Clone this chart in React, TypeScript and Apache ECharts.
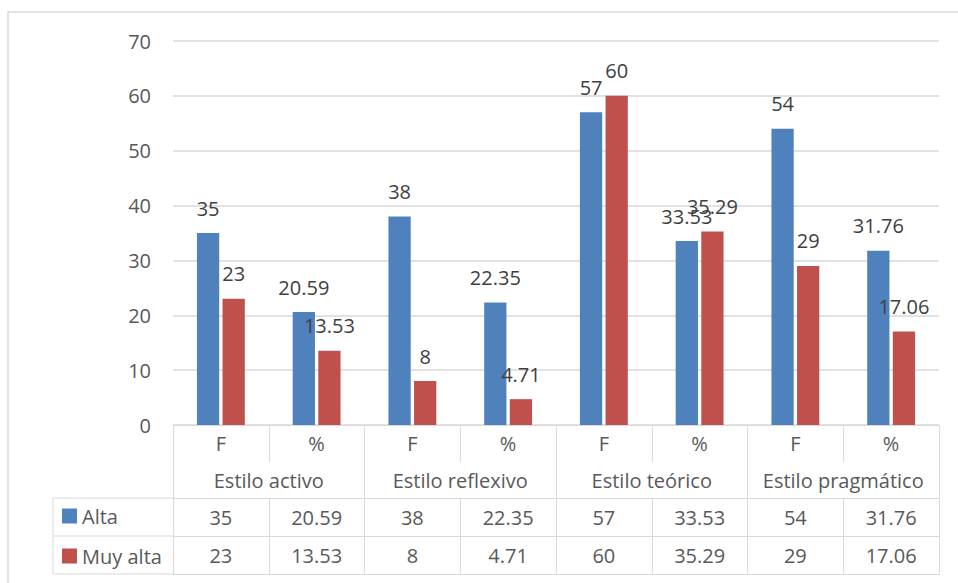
import React, { useEffect, useRef } from "react";
import * as echarts from "echarts";

const categories = [
  "activo-F", "activo-%", "reflexivo-F", "reflexivo-%",
  "teorico-F", "teorico-%", "pragmatico-F", "pragmatico-%",
];
const subLabels = ["F", "%", "F", "%", "F", "%", "F", "%"];
const groupLabels = ["Estilo activo", "Estilo reflexivo", "Estilo teórico", "Estilo pragmático"];
const seriesNames = ["Alta", "Muy alta"];
const alta = [35, 20.59, 38, 22.35, 57, 33.53, 54, 31.76];
const muyAlta = [23, 13.53, 8, 4.71, 60, 35.29, 29, 17.06];
const yTicks = { min: 0, max: 70, interval: 10 };

const FONT = "Open Sans";
const GRAY = "#d9d9d9";
const TXT = "#595959";

export default function App() {
  const ref = useRef<HTMLDivElement>(null);
  useEffect(() => {
    if (!ref.current) return;
    const chart = echarts.init(ref.current, null, { renderer: "svg" });
    const baseLabel = { fontFamily: FONT, fontSize: 20, color: TXT, lineHeight: 24, interval: 0 };
    const rowAxis = (offset: number, labels: string[] | null, tickLen: number, margin: number, showTicks: boolean) => ({
      type: "category" as const,
      data: categories,
      position: "bottom" as const,
      offset,
      gridIndex: 0,
      axisLine: { show: true, lineStyle: { color: GRAY, width: 1 } },
      axisTick: { show: showTicks, interval: 0, length: tickLen, lineStyle: { color: GRAY, width: 1 } },
      axisLabel: {
        ...baseLabel,
        show: !!labels,
        margin,
        formatter: (_v: string, i: number) => (labels ? labels[i] : ""),
      },
      splitLine: { show: false },
    });
    const option: any = {
      animation: false,
      grid: { left: 173, right: 19, top: 41, bottom: 158, containLabel: false },
      legend: {
        data: seriesNames,
        orient: "vertical",
        left: 62,
        top: 505,
        padding: 0,
        itemWidth: 15,
        itemHeight: 15,
        itemGap: 18,
        icon: "rect",
        textStyle: { fontFamily: FONT, fontSize: 20, color: TXT, lineHeight: 22 },
        selectedMode: false,
      },
      xAxis: [
        rowAxis(0, subLabels, 37, 6, true),
        {
          type: "category",
          data: groupLabels,
          position: "bottom",
          offset: 37,
          gridIndex: 0,
          axisLine: { show: false },
          axisTick: { show: true, interval: 0, length: 36, lineStyle: { color: GRAY, width: 1 } },
          axisLabel: { ...baseLabel, margin: 6 },
        },
        rowAxis(73, alta.map(String), 38, 7, true),
        rowAxis(111, muyAlta.map(String), 38, 7, true),
        rowAxis(149, null, 0, 0, false),
      ],
      yAxis: {
        type: "value",
        min: yTicks.min,
        max: yTicks.max,
        interval: yTicks.interval,
        axisLine: { show: false },
        axisTick: { show: false },
        axisLabel: { fontFamily: FONT, fontSize: 20, color: TXT, margin: 22 },
        splitLine: { lineStyle: { color: GRAY, width: 1.5 } },
      },
      series: [
        {
          name: seriesNames[0],
          type: "bar",
          data: alta,
          xAxisIndex: 0,
          barGap: "15%",
          barCategoryGap: "50%",
          itemStyle: { color: "#4F81BD" },
          label: { show: true, position: "top", distance: 15, fontFamily: FONT, fontSize: 20, color: "#404040" },
        },
        {
          name: seriesNames[1],
          type: "bar",
          data: muyAlta,
          xAxisIndex: 0,
          barGap: "15%",
          barCategoryGap: "50%",
          itemStyle: { color: "#C0504D" },
          label: { show: true, position: "top", distance: 15, fontFamily: FONT, fontSize: 20, color: "#404040" },
        },
      ],
      graphic: [
        { type: "rect", shape: { x: 8, y: 12, width: 960, height: 580 }, style: { fill: "none", stroke: GRAY, lineWidth: 1.5 }, silent: true },
        { type: "line", shape: { x1: 53, y1: 498, x2: 173, y2: 498 }, style: { stroke: GRAY, lineWidth: 1 } },
        { type: "line", shape: { x1: 53, y1: 536, x2: 173, y2: 536 }, style: { stroke: GRAY, lineWidth: 1 } },
        { type: "line", shape: { x1: 53, y1: 574, x2: 173, y2: 574 }, style: { stroke: GRAY, lineWidth: 1 } },
        { type: "line", shape: { x1: 53, y1: 498, x2: 53, y2: 574 }, style: { stroke: GRAY, lineWidth: 1 } },
      ],
    };
    chart.setOption(option);
    return () => chart.dispose();
  }, []);
  return <div ref={ref} style={{ position: "absolute", left: 0, top: 0, width: 958, height: 583, background: "#fff" }} />;
}
